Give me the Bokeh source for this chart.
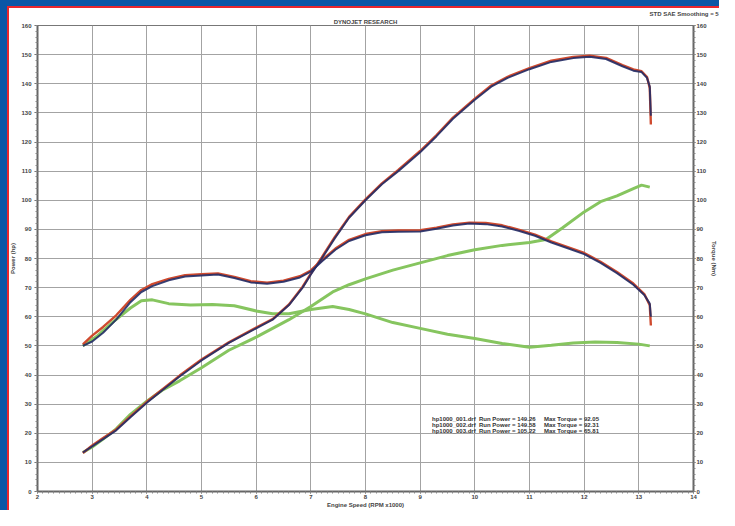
from bokeh.plotting import figure
from bokeh.models import Range1d, LinearAxis, FixedTicker, Legend, LegendItem, Title
from bokeh.embed import file_html
from bokeh.resources import INLINE

# ---------------- data ----------------
x_ticks = [2, 3, 4, 5, 6, 7, 8, 9, 10, 11, 12, 13, 14]
y_ticks = [0, 10, 20, 30, 40, 50, 60, 70, 80, 90, 100, 110, 120, 130, 140, 150, 160]

blue_pw_rpm = [2.83, 3.0, 3.2, 3.44, 3.7, 4.0, 4.3, 4.6, 5.0, 5.5, 6.0, 6.3, 6.6, 6.85, 7.0, 7.2,
               7.44, 7.7, 8.0, 8.3, 8.6, 9.0, 9.3, 9.6, 10.0, 10.3, 10.6, 11.0, 11.4, 11.8, 12.1,
               12.4, 12.7, 12.9, 13.05, 13.15, 13.2, 13.22]
blue_pw = [13.4, 15.5, 18, 21, 25.5, 30.5, 35, 39.5, 45, 51, 56, 59, 64, 70, 74.5, 80,
           87, 94, 100, 105.5, 110, 116.5, 122, 128, 134.5, 139, 142, 145, 147.5, 148.8, 149.3,
           148.5, 146, 144.5, 144, 142, 139, 129]
red_pw = [13.2, 15.8, 18.4, 21.3, 25.8, 30.8, 35.3, 39.8, 45.3, 51.2, 56.3, 59.2, 64.2, 70.3, 74.8, 80.4,
          87.4, 94.3, 100.3, 105.8, 110.4, 116.9, 122.4, 128.4, 134.9, 139.4, 142.4, 145.4, 147.9, 149.2, 149.6,
          148.9, 146.4, 144.9, 144.3, 142.3, 138.5, 126]

blue_tq_rpm = [2.83, 3.0, 3.2, 3.44, 3.7, 3.9, 4.1, 4.4, 4.7, 5.0, 5.3, 5.6, 5.9, 6.2, 6.5, 6.8,
               7.0, 7.2, 7.45, 7.7, 8.0, 8.3, 8.6, 9.0, 9.3, 9.6, 9.9, 10.2, 10.5, 10.8, 11.1,
               11.4, 11.7, 12.0, 12.3, 12.6, 12.9, 13.1, 13.2, 13.22]
blue_tq = [50, 51.5, 54.5, 59, 65, 68.5, 70.5, 72.5, 73.8, 74.2, 74.5, 73.3, 71.8, 71.3, 72, 73.5,
           75.5, 79, 83, 86, 88, 89, 89.2, 89.3, 90.2, 91.3, 92, 91.8, 91, 89.5, 87.8,
           85.5, 83.5, 81.5, 78.5, 75, 71, 67.5, 64.5, 60]
red_tq = [50.5, 53.5, 56.5, 60.5, 65.8, 69.2, 71.2, 73.0, 74.3, 74.6, 74.9, 73.7, 72.2, 71.7, 72.4, 73.9,
          75.9, 79.4, 83.4, 86.4, 88.4, 89.4, 89.6, 89.7, 90.6, 91.7, 92.3, 92.2, 91.4, 89.9, 88.2,
          85.9, 83.9, 81.9, 78.9, 75.4, 71.4, 67.8, 64.0, 57]

green_pw_rpm = [2.83, 3.0, 3.2, 3.44, 3.7, 4.0, 4.3, 4.6, 5.0, 5.5, 6.0, 6.3, 6.6, 7.0, 7.4, 7.7,
                8.0, 8.5, 9.0, 9.5, 10.0, 10.5, 11.0, 11.3, 11.6, 12.0, 12.3, 12.6, 12.9, 13.05, 13.2]
green_pw = [13.4, 15.3, 18, 21.5, 26.5, 31, 35, 38, 42.5, 48.5, 53, 56, 59, 63.5, 68.5, 71,
            73, 76, 78.5, 81, 83, 84.5, 85.5, 86.5, 90.5, 96, 99.5, 101.5, 104, 105.2, 104.5]

green_tq_rpm = [2.83, 3.1, 3.4, 3.7, 3.9, 4.1, 4.4, 4.8, 5.2, 5.6, 6.0, 6.3, 6.6, 7.0, 7.4, 7.7,
                8.0, 8.5, 9.0, 9.5, 10.0, 10.5, 11.0, 11.4, 11.8, 12.2, 12.6, 13.0, 13.2]
green_tq = [50, 53.5, 58.5, 63, 65.5, 65.8, 64.5, 64, 64.2, 63.8, 62, 61, 61, 62.5, 63.5, 62.5,
            61, 58, 56, 54, 52.5, 50.8, 49.5, 50.2, 51, 51.3, 51.2, 50.6, 50]

legend_texts = ["hp1000_001.drf  Run Power = 149.26     Max Torque = 92.05",
                "hp1000_002.drf  Run Power = 149.58     Max Torque = 92.31",
                "hp1000_003.drf  Run Power = 105.22     Max Torque = 65.81"]

# ---------------- figure ----------------
W, H = 719, 510
BL, BR, BT, BB = 37, 18, 25, 16
FONT = "Liberation Sans"
TXT = "#444444"

p = figure(width=W, height=H, x_range=Range1d(2, 14), y_range=Range1d(0, 160),
           output_backend="svg", toolbar_location=None,
           min_border_left=BL, min_border_right=BR, min_border_top=BT, min_border_bottom=BB,
           background_fill_color="white", border_fill_alpha=0,
           styles={"background-color": "#ffffff",
                   "box-shadow": "inset 7px 6px 0 0 #0b56a6, inset 9px 8px 0 0 #e8262d"})
p.outline_line_color = "#777777"
p.outline_line_width = 1
p.extra_y_ranges = {"tq": Range1d(0, 160)}


def style_axis(ax, tick_out, lab_standoff, title_standoff):
    ax.axis_line_color = "#666666"
    ax.axis_line_width = 2
    ax.major_tick_line_color = "#666666"
    ax.minor_tick_line_color = "#888888"
    ax.major_tick_in = 0
    ax.major_tick_out = tick_out
    ax.minor_tick_in = 0
    ax.minor_tick_out = 2
    ax.major_label_text_font = FONT
    ax.major_label_text_font_style = "bold"
    ax.major_label_text_font_size = "6px"
    ax.major_label_text_color = TXT
    ax.axis_label_text_font = FONT
    ax.axis_label_text_font_style = "bold"
    ax.axis_label_text_font_size = "6px"
    ax.axis_label_text_color = TXT
    ax.major_label_standoff = lab_standoff
    ax.axis_label_standoff = title_standoff


p.xaxis.ticker = FixedTicker(ticks=x_ticks, minor_ticks=[2 + i * 0.1 for i in range(121)])
p.yaxis.ticker = FixedTicker(ticks=y_ticks, minor_ticks=list(range(0, 161, 2)))
p.xaxis.axis_label = "Engine Speed (RPM x1000)"
p.yaxis.axis_label = "Power (hp)"
style_axis(p.xaxis[0], 2, 1, 0)
style_axis(p.yaxis[0], 3, 3, 2)

ry = LinearAxis(y_range_name="tq", axis_label="Torque (Nm)",
                ticker=FixedTicker(ticks=y_ticks, minor_ticks=list(range(0, 161, 2))))
style_axis(ry, 2, 1, 1)
p.add_layout(ry, "right")

p.xgrid.ticker = FixedTicker(ticks=x_ticks)
p.ygrid.ticker = FixedTicker(ticks=y_ticks)
p.xgrid.grid_line_color = "#a3a3a3"
p.ygrid.grid_line_color = "#a3a3a3"

# ---------------- curves ----------------
GREEN = "#86c55f"
RED = "#cf4a2e"
BLUE = "#222c66"
p.line(green_pw_rpm, green_pw, line_color=GREEN, line_width=3)
p.line(green_tq_rpm, green_tq, line_color=GREEN, line_width=3, y_range_name="tq")
p.line(blue_pw_rpm, red_pw, line_color=RED, line_width=2.4)
p.line(blue_tq_rpm, red_tq, line_color=RED, line_width=2.4, y_range_name="tq")
p.line(blue_pw_rpm, blue_pw, line_color=BLUE, line_width=2, line_alpha=0.9)
p.line(blue_tq_rpm, blue_tq, line_color=BLUE, line_width=2, line_alpha=0.9, y_range_name="tq")

# legend swatches
sw_b = p.scatter([], [], marker="square", color="#3c4fa6")
sw_r = p.scatter([], [], marker="square", color="#c2553a")
sw_g = p.scatter([], [], marker="square", color="#78b84c")
leg = Legend(items=[LegendItem(label=legend_texts[0], renderers=[sw_b]),
                    LegendItem(label=legend_texts[1], renderers=[sw_r]),
                    LegendItem(label=legend_texts[2], renderers=[sw_g])],
             location=(387, 57), orientation="vertical",
             glyph_width=5, glyph_height=5, label_height=5, label_standoff=3, spacing=0,
             padding=0, margin=0, border_line_color=None, background_fill_alpha=0,
             label_text_font=FONT, label_text_font_style="bold", label_text_font_size="6px",
             label_text_color="#333333")
p.add_layout(leg, "center")

# ---------------- titles ----------------
p.title.text = "STD SAE   Smoothing = 5"
p.title.align = "left"
p.title.offset = 612
p.title.text_font = FONT
p.title.text_font_style = "bold"
p.title.text_font_size = "6px"
p.title.text_color = TXT
p.title.standoff = 0
p.add_layout(Title(text="DYNOJET RESEARCH", align="center", standoff=1,
                   text_font=FONT, text_font_style="bold", text_font_size="6px",
                   text_color=TXT), "above")

open("out.html", "w").write(file_html(p, INLINE))
